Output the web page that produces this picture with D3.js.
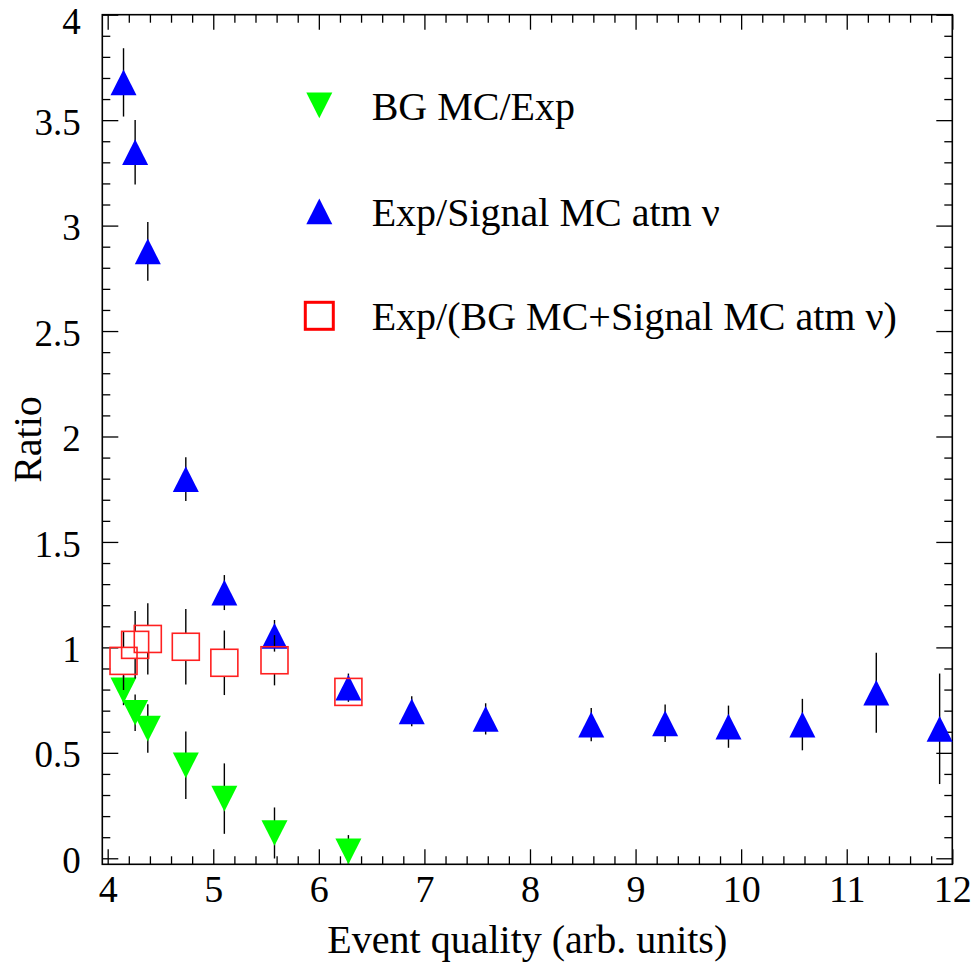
<!DOCTYPE html>
<html>
<head>
<meta charset="utf-8">
<script src="https://cdn.jsdelivr.net/npm/d3@7"></script>
<style>
  html, body { margin: 0; padding: 0; background: #fff; }
  svg text { font-family: "Liberation Serif", "Times New Roman", serif; fill: #000; }
</style>
</head>
<body>
<svg id="chart" width="974" height="963"></svg>
<script>
// ---- data ----
const xLow = [4.15, 4.26, 4.38, 4.74, 5.105, 5.58, 6.28];
const bgOverExp = [0.796, 0.690, 0.615, 0.441, 0.283, 0.120, 0.033];
const bgOverExpErr = [0.07, 0.087, 0.115, 0.160, 0.167, 0.121, 0.077];

const xSignal = [4.15, 4.26, 4.38, 4.74, 5.105, 5.58, 6.28, 6.88, 7.58, 8.58, 9.28, 9.88, 10.58, 11.28, 11.88];
const expOverSignal = [3.679, 3.348, 2.878, 1.798, 1.260, 1.055, 0.809, 0.697, 0.661, 0.634, 0.640, 0.624, 0.634, 0.785, 0.614];
const expOverSignalErr = [0.162, 0.153, 0.139, 0.104, 0.083, 0.075, 0.067, 0.071, 0.074, 0.079, 0.089, 0.100, 0.122, 0.190, 0.262];

const expOverSum = [0.936, 1.012, 1.040, 1.003, 0.927, 0.939, 0.789];
const expOverSumErr = [0.138, 0.160, 0.169, 0.179, 0.153, 0.119, 0.05];

const xTickValues = [4, 5, 6, 7, 8, 9, 10, 11, 12];
const yTickValues = [0, 0.5, 1, 1.5, 2, 2.5, 3, 3.5, 4];
const legendLabels = ["BG MC/Exp", "Exp/Signal MC atm \u03bd", "Exp/(BG MC+Signal MC atm \u03bd)"];
const xTitle = "Event quality (arb. units)";
const yTitle = "Ratio";

// ---- layout ----
const pL = 102.3, pR = 952.3, pT = 14.7, pB = 864.3;
const svg = d3.select("#chart");

const x = d3.scaleLinear().domain([3.949, 12]).range([pL, pR]);
const y = d3.scaleLinear().domain([-0.0285, 4]).range([pB, pT]);

const axisColor = "#000";
const g = svg.append("g");

const xMinor = d3.range(4, 12.0001, 0.2).filter(v => Math.abs(v - Math.round(v)) > 1e-6);
const yMinor = d3.range(0, 4.0001, 0.1).filter(v => Math.abs(v * 2 - Math.round(v * 2)) > 1e-6);

function tickAxis(axisGen, transform, values, size) {
  const a = g.append("g").attr("transform", transform)
    .call(axisGen.tickValues(values).tickSize(size).tickFormat(""));
  a.select(".domain").remove();
  a.selectAll("line").attr("stroke", axisColor).attr("stroke-width", 1.3);
  return a;
}
tickAxis(d3.axisTop(x), `translate(0,${pB})`, xTickValues, 15);
tickAxis(d3.axisTop(x), `translate(0,${pB})`, xMinor, 8);
tickAxis(d3.axisBottom(x), `translate(0,${pT})`, xTickValues, 15);
tickAxis(d3.axisBottom(x), `translate(0,${pT})`, xMinor, 8);
tickAxis(d3.axisRight(y), `translate(${pL},0)`, yTickValues, 16);
tickAxis(d3.axisRight(y), `translate(${pL},0)`, yMinor, 8);
tickAxis(d3.axisLeft(y), `translate(${pR},0)`, yTickValues, 16);
tickAxis(d3.axisLeft(y), `translate(${pR},0)`, yMinor, 8);

g.append("rect").attr("x", pL).attr("y", pT)
  .attr("width", pR - pL).attr("height", pB - pT)
  .attr("fill", "none").attr("stroke", axisColor).attr("stroke-width", 1.6);

const fmt = d => String(d);
const xl = g.append("g").attr("transform", `translate(0,${pB})`)
  .call(d3.axisBottom(x).tickValues(xTickValues).tickSize(0).tickPadding(0).tickFormat(fmt));
xl.select(".domain").remove();
xl.selectAll("text").attr("font-size", 38).attr("dy", null).attr("y", 37.5)
  .attr("font-family", '"Liberation Serif", serif').attr("fill", "#000");

const yl = g.append("g").attr("transform", `translate(${pL},0)`)
  .call(d3.axisLeft(y).tickValues(yTickValues).tickSize(0).tickPadding(0).tickFormat(fmt));
yl.select(".domain").remove();
yl.selectAll("text").attr("font-size", 37).attr("x", -21.6)
  .attr("dy", null).attr("y", d => (d === 4 ? 19.2 : 14.1))
  .attr("font-family", '"Liberation Serif", serif').attr("fill", "#000");

g.append("text").attr("x", (pL + pR) / 2).attr("y", 953)
  .attr("text-anchor", "middle").attr("font-size", 40).text(xTitle);
g.append("text").attr("transform", `translate(41,${(pT + pB) / 2}) rotate(-90)`)
  .attr("text-anchor", "middle").attr("font-size", 40).text(yTitle);

// ---- markers ----
const triW = 26, triH = 25.7, sq = 27;
function triUp(cx, cy, w, h) {
  return `M${cx},${cy - h / 2}L${cx + w / 2},${cy + h / 2}L${cx - w / 2},${cy + h / 2}Z`;
}
function triDown(cx, cy, w, h) {
  return `M${cx},${cy + h / 2}L${cx + w / 2},${cy - h / 2}L${cx - w / 2},${cy - h / 2}Z`;
}

function errorBars(xs, vs, es, gap) {
  const eg = g.append("g").attr("stroke", "#000").attr("stroke-width", 1.4);
  xs.forEach((xv, i) => {
    if (i >= vs.length) return;
    const cx = x(xv), cy = y(vs[i]);
    const y1 = y(vs[i] + es[i]), y2 = y(vs[i] - es[i]);
    if (y1 < cy - gap) eg.append("line").attr("x1", cx).attr("x2", cx).attr("y1", y1).attr("y2", cy - gap);
    if (y2 > cy + gap) eg.append("line").attr("x1", cx).attr("x2", cx).attr("y1", cy + gap).attr("y2", Math.min(y2, pB));
  });
}

svg.append("clipPath").attr("id", "plotclip").append("rect")
  .attr("x", pL).attr("y", pT).attr("width", pR - pL).attr("height", pB - pT);

errorBars(xLow, bgOverExp, bgOverExpErr, 0);
g.append("g").attr("clip-path", "url(#plotclip)").selectAll("path").data(bgOverExp).join("path")
  .attr("d", (v, i) => triDown(x(xLow[i]), y(v), triW, triH)).attr("fill", "#00ff00");

errorBars(xSignal, expOverSignal, expOverSignalErr, 0);
g.append("g").selectAll("path").data(expOverSignal).join("path")
  .attr("d", (v, i) => triUp(x(xSignal[i]), y(v), triW, triH)).attr("fill", "#0000ff");

errorBars(xLow, expOverSum, expOverSumErr, sq / 2);
g.append("g").selectAll("rect").data(expOverSum).join("rect")
  .attr("x", (v, i) => x(xLow[i]) - sq / 2).attr("y", v => y(v) - sq / 2)
  .attr("width", sq).attr("height", sq)
  .attr("fill", "none").attr("stroke", "#ff2020").attr("stroke-width", 1.6);

// ---- legend ----
const legX = 319.3, legTextX = 371.7;
const legY = [105.3, 211.3, 315.8];
const legBase = [120, 225.7, 330];
const lg = svg.append("g");
lg.append("path").attr("d", triDown(legX, legY[0], triW, triH)).attr("fill", "#00ff00");
lg.append("path").attr("d", triUp(legX, legY[1], triW, triH)).attr("fill", "#0000ff");
lg.append("rect").attr("x", legX - 14).attr("y", legY[2] - 13.5).attr("width", 28).attr("height", 27)
  .attr("fill", "none").attr("stroke", "#ff0000").attr("stroke-width", 3);
legendLabels.forEach((t, i) => {
  lg.append("text").attr("x", legTextX).attr("y", legBase[i]).attr("font-size", 40).text(t);
});
</script>
</body>
</html>
